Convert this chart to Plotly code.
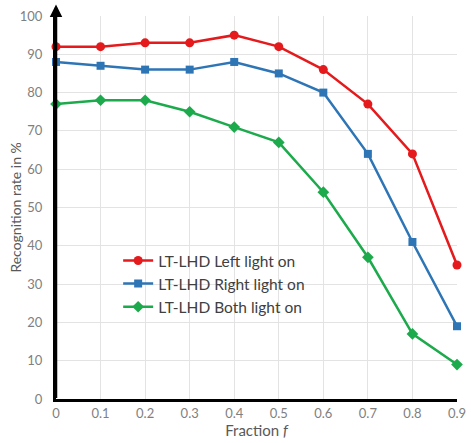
import plotly.graph_objects as go

fraction = [0, 0.1, 0.2, 0.3, 0.4, 0.5, 0.6, 0.7, 0.8, 0.9]
left_on = [92, 92, 93, 93, 95, 92, 86, 77, 64, 35]
right_on = [88, 87, 86, 86, 88, 85, 80, 64, 41, 19]
both_on = [77, 78, 78, 75, 71, 67, 54, 37, 17, 9]
names = ["LT-LHD Left light on", "LT-LHD Right light on", "LT-LHD Both light on"]
x_ticks = [0, 0.1, 0.2, 0.3, 0.4, 0.5, 0.6, 0.7, 0.8, 0.9]
x_labels = ["0", "0.1", "0.2", "0.3", "0.4", "0.5", "0.6", "0.7", "0.8", "0.9"]
y_ticks = [0, 10, 20, 30, 40, 50, 60, 70, 80, 90, 100]
y_title = "Recognition rate in %"

fig = go.Figure()
styles = [
    (left_on, "#E41A1C", "circle", 9),
    (right_on, "#2E75B6", "square", 8),
    (both_on, "#1DAA4C", "diamond", 9),
]
for (vals, col, sym, sz), nm in zip(styles, names):
    fig.add_trace(go.Scatter(
        x=fraction, y=vals, name=nm, mode="lines+markers",
        line=dict(color=col, width=2.5),
        marker=dict(color=col, symbol=sym, size=sz),
        cliponaxis=False,
    ))

grid = "#E3E3E3"
fig.update_layout(
    width=471, height=443,
    margin=dict(l=56, r=14, t=16, b=44),
    paper_bgcolor="white", plot_bgcolor="white",
    font=dict(family="Lato, Open Sans, sans-serif", color="#595959"),
    showlegend=True,
    legend=dict(
        x=0.155, y=0.405, xanchor="left", yanchor="top",
        bgcolor="rgba(255,255,255,0)", borderwidth=0,
        font=dict(size=15.5, color="#404040"),
        itemwidth=30, tracegroupgap=0,
    ),
    xaxis=dict(
        range=[0, 0.9], tickvals=x_ticks, ticktext=x_labels,
        showgrid=True, gridcolor=grid, gridwidth=1,
        zeroline=False, showline=True, linecolor="black", linewidth=3,
        mirror=False, ticks="", tickfont=dict(size=13, color="#7F7F7F"),
        title=dict(text="Fraction <i>f</i>", font=dict(size=15, color="#595959"), standoff=2),
        automargin=False,
    ),
    yaxis=dict(
        range=[0, 100], tickvals=y_ticks,
        showgrid=True, gridcolor=grid, gridwidth=1,
        zeroline=False, showline=True, linecolor="black", linewidth=3,
        ticks="", tickfont=dict(size=13, color="#7F7F7F"), ticklabelstandoff=8,
        automargin=False,
    ),
)

fig.add_annotation(
    x=-0.102, y=0.5, xref="paper", yref="paper", text=y_title, showarrow=False,
    textangle=-90, xanchor="center", yanchor="middle",
    font=dict(size=14, color="#595959"),
)

fig.add_annotation(
    x=0, y=1.03, xref="paper", yref="paper", text="", showarrow=True,
    axref="pixel", ayref="pixel", ax=0, ay=395,
    arrowhead=2, arrowsize=1, arrowwidth=2.5, arrowcolor="black",
)

fig.write_html(
    "out.html",
    config={"displayModeBar": False},
    post_script="document.body.style.margin='0px';document.body.style.overflow='hidden';",
)
